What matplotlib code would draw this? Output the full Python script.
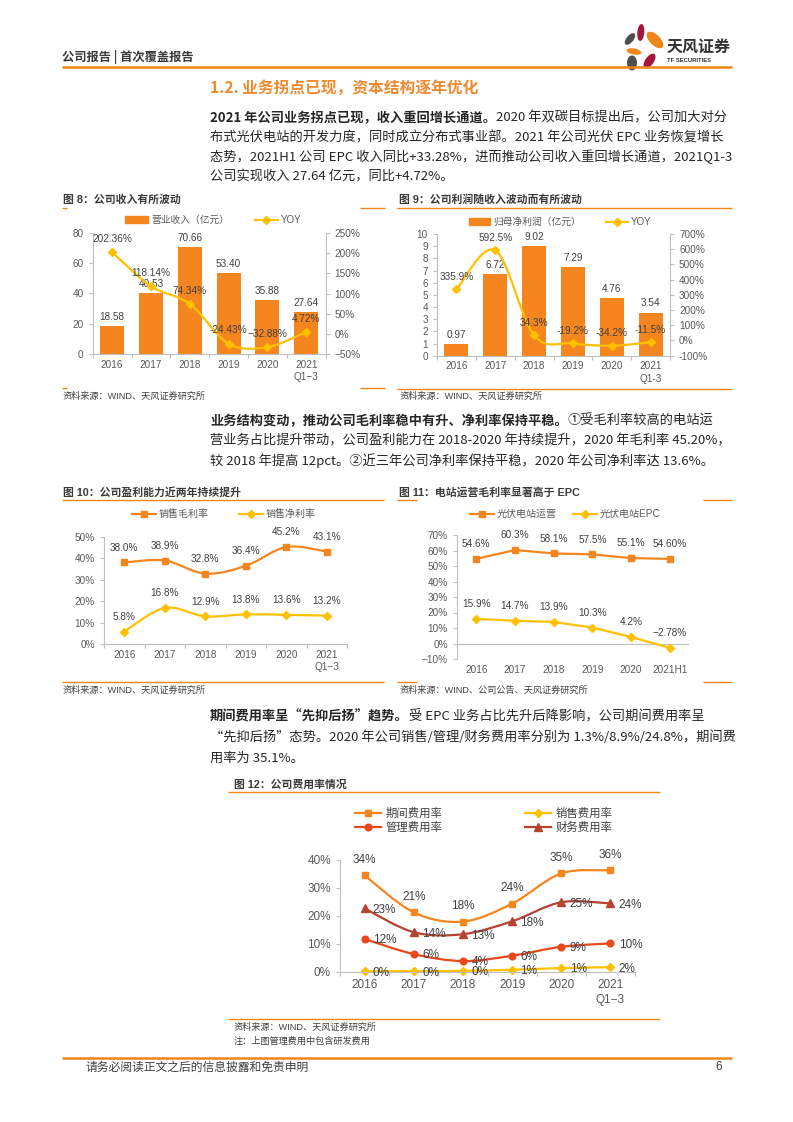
import numpy as np
import matplotlib
matplotlib.use('Agg')
import matplotlib.pyplot as plt
from matplotlib.path import Path
from matplotlib.patches import PathPatch, Patch, Ellipse
from matplotlib.lines import Line2D

plt.rcParams['font.family'] = ['Liberation Sans', 'Noto Sans CJK SC', 'DejaVu Sans']
plt.rcParams['axes.unicode_minus'] = False

# ---- data ----
years = ['2016', '2017', '2018', '2019', '2020', '2021\nQ1−3']
years_9 = ['2016', '2017', '2018', '2019', '2020', '2021\nQ1-3']
years_11 = ['2016', '2017', '2018', '2019', '2020', '2021H1']

revenue = [18.58, 40.53, 70.66, 53.40, 35.88, 27.64]
revenue_yoy = [202.36, 118.14, 74.34, -24.43, -32.88, 4.72]
revenue_yoy_labels = ['202.36%', '118.14%', '74.34%', '-24.43%', '−32.88%', '4.72%']

profit = [0.97, 6.72, 9.02, 7.29, 4.76, 3.54]
profit_yoy = [335.9, 592.5, 34.3, -19.2, -34.2, -11.5]
profit_yoy_labels = ['335.9%', '592.5%', '34.3%', '-19.2%', '-34.2%', '-11.5%']

gross_margin = [38.0, 38.9, 32.8, 36.4, 45.2, 43.1]
net_margin = [5.8, 16.8, 12.9, 13.8, 13.6, 13.2]

op_margin = [54.6, 60.3, 58.1, 57.5, 55.1, 54.60]
op_labels = ['54.6%', '60.3%', '58.1%', '57.5%', '55.1%', '54.60%']
epc_margin = [15.9, 14.7, 13.9, 10.3, 4.2, -2.78]
epc_labels = ['15.9%', '14.7%', '13.9%', '10.3%', '4.2%', '−2.78%']

period_rate = [34.4, 21.2, 17.9, 24.3, 35.1, 36.2]
sales_rate = [0.1, 0.2, 0.3, 0.7, 1.3, 1.6]
admin_rate = [11.7, 6.3, 3.8, 5.7, 8.9, 10.1]
finance_rate = [22.6, 14.1, 13.4, 18.0, 24.8, 24.4]

ORANGE = '#F08519'
BAR = '#F5861F'
YEL = '#FFC000'
RED = '#E8481C'
BRICK = '#B5432F'
TXT = '#404040'
TICK = '#595959'
SPINE = '#BFBFBF'
BODY = ['Noto Sans CJK SC', 'DejaVu Sans']

W, H = 793, 1122
fig = plt.figure(figsize=(W / 100, H / 100), dpi=100)
bg = fig.add_axes([0, 0, 1, 1])
bg.set_xlim(0, W)
bg.set_ylim(H, 0)
bg.axis('off')


def add_box(x0, y0, x1, y1):
    ax = fig.add_axes([x0 / W, 1 - y1 / H, (x1 - x0) / W, (y1 - y0) / H])
    ax.set_facecolor('none')
    return ax


def smooth_path(xs, ys):
    # Excel-style smoothed line: Catmull-Rom through the points as bezier segments
    pts = np.column_stack([xs, ys]).astype(float)
    n = len(pts)
    verts = [pts[0]]
    codes = [Path.MOVETO]
    for i in range(n - 1):
        p0 = pts[i - 1] if i > 0 else pts[i]
        p1, p2 = pts[i], pts[i + 1]
        p3 = pts[i + 2] if i + 2 < n else pts[i + 1]
        verts += [p1 + (p2 - p0) / 6, p2 - (p3 - p1) / 6, p2]
        codes += [Path.CURVE4] * 3
    return Path(verts, codes)


def style(ax, size=7.2, cat_ticks=True):
    for s in ['top', 'right']:
        ax.spines[s].set_visible(False)
    for s in ['left', 'bottom']:
        ax.spines[s].set_color(SPINE)
        ax.spines[s].set_linewidth(0.8)
    ax.tick_params(color=SPINE, labelcolor=TICK, labelsize=size, length=3, width=0.8)
    ax.tick_params(axis='x', length=0, pad=4)
    if cat_ticks:
        ax.set_xticks(np.arange(-0.5, 6, 1), minor=True)
        ax.tick_params(axis='x', which='minor', length=3, width=0.8, color=SPINE)
    for lab in ax.get_xticklabels():
        lab.set_linespacing(1.35)


def hline(x0, x1, y, lw=1.0):
    bg.plot([x0, x1], [y, y], color=ORANGE, lw=lw, solid_capstyle='butt')


def label_points(ax, xs, ys, labels, dy=7, size=7.2, dx=0, ha='center', va='bottom'):
    for xi, yi, lab in zip(xs, ys, labels):
        ax.annotate(lab, (xi, yi), xytext=(dx, dy), textcoords='offset points',
                    ha=ha, va=va, fontsize=size, color=TXT)


def para(y, bold, rest, size=9.5):
    if bold:
        t = bg.text(210, y, bold, fontsize=size, fontweight='bold', color='#262626',
                    va='center', family=BODY)
        bg.annotate(rest, xy=(1, 0.5), xycoords=t, va='center', ha='left',
                    fontsize=size, color='#262626', family=BODY)
    else:
        bg.text(210, y, rest, fontsize=size, color='#262626', va='center', family=BODY)


# ---- page header ----
bg.text(62, 57, '公司报告 | 首次覆盖报告', fontsize=8.8, fontweight='bold', color='#3A3A3A',
        va='center', family=BODY)
hline(62, 732, 67, lw=1.8)
petals = [((640.8, 32.5), 7, 17, 5, '#A3173D'),
          ((655, 40), 10.5, 21, -45, ORANGE),
          ((630, 39), 7, 14, 40, '#4D4D4D'),
          ((634, 51.5), 15, 6, 10, ORANGE),
          ((649.5, 61), 8.5, 17, 35, '#A3173D'),
          ((632, 63), 10, 15, 0, '#4D4D4D')]
for c, w, h, a, col in petals:
    bg.add_patch(Ellipse(c, w, h, angle=a, color=col, lw=0))
bg.text(667, 47, '天风证券', fontsize=11.5, fontweight='bold', color='#333333', va='center',
        family=BODY)
bg.text(667, 60, 'TF SECURITIES', fontsize=4.2, fontweight='bold', color='#333333',
        va='center')

bg.text(210, 88, '1.2. 业务拐点已现，资本结构逐年优化', fontsize=11.3, fontweight='bold',
        color='#F0892D', va='center', family=BODY)

para(118, '2021 年公司业务拐点已现，收入重回增长通道。', '2020 年双碳目标提出后，公司加大对分')
para(137.5, None, '布式光伏电站的开发力度，同时成立分布式事业部。2021 年公司光伏 EPC 业务恢复增长')
para(157, None, '态势，2021H1 公司 EPC 收入同比+33.28%，进而推动公司收入重回增长通道，2021Q1-3')
para(176.5, None, '公司实现收入 27.64 亿元，同比+4.72%。')

para(421, '业务结构变动，推动公司毛利率稳中有升、净利率保持平稳。', '①受毛利率较高的电站运')
para(441, None, '营业务占比提升带动，公司盈利能力在 2018-2020 年持续提升，2020 年毛利率 45.20%，')
para(461, None, '较 2018 年提高 12pct。②近三年公司净利率保持平稳，2020 年公司净利率达 13.6%。')

para(717, '期间费用率呈“先抑后扬”趋势。', '受 EPC 业务占比先升后降影响，公司期间费用率呈')
para(737.5, None, '“先抑后扬”态势。2020 年公司销售/管理/财务费用率分别为 1.3%/8.9%/24.8%，期间费')
para(758, None, '用率为 35.1%。')


def title(x, y, s):
    bg.text(x, y, s, fontsize=7.8, fontweight='bold', color='#3A3A3A', va='center')


def source(x, y, s):
    bg.text(x, y, s, fontsize=6.6, color=TXT, va='center')


# chart frames
title(63, 200, '图 8：公司收入有所波动')
hline(62, 67, 208); hline(360, 385, 208)
hline(62, 67, 388); hline(360, 385, 388)
source(63, 396, '资料来源：WIND、天风证券研究所')

title(399, 200, '图 9：公司利润随收入波动而有所波动')
hline(397, 732, 208)
hline(397, 732, 389)
source(400, 396, '资料来源：WIND、天风证券研究所')

title(63, 492, '图 10：公司盈利能力近两年持续提升')
hline(62, 384, 500)
hline(62, 384, 682)
source(63, 690, '资料来源：WIND、天风证券研究所')

title(399, 492, '图 11：电站运营毛利率显著高于 EPC')
hline(397, 417, 500); hline(703, 732, 500)
hline(397, 417, 682); hline(703, 732, 682)
source(400, 690, '资料来源：WIND、公司公告、天风证券研究所')

title(234, 785, '图 12：公司费用率情况')
hline(228, 660, 792)
hline(228, 660, 1019)
source(234, 1027, '资料来源：WIND、天风证券研究所')
source(234, 1041, '注：上图管理费用中包含研发费用')

# footer
hline(62, 732, 1058, lw=1.8)
bg.text(85, 1067, '请务必阅读正文之后的信息披露和免责申明', fontsize=8.5, color=TXT,
        va='center', family=BODY)
bg.text(722, 1067, '6', fontsize=8.5, color=TXT, va='center', ha='right')

x = np.arange(6)

# ---- 图 8 ----
ax8 = add_box(92.7, 233, 325.7, 354)
ax8.bar(x, revenue, width=0.62, color=BAR, zorder=2)
ax8.set_xlim(-0.5, 5.5)
ax8.set_ylim(0, 80)
ax8.set_yticks(range(0, 81, 20))
ax8.set_xticks(x, years)
style(ax8)
label_points(ax8, x, revenue, [f'{v:.2f}' for v in revenue], dy=3)
ax8r = ax8.twinx()
ax8r.set_facecolor('none')
ax8r.set_ylim(-50, 250)
ax8r.set_yticks(range(-50, 251, 50), ['−50%', '0%', '50%', '100%', '150%', '200%', '250%'])
for s in ['top', 'left', 'bottom']:
    ax8r.spines[s].set_visible(False)
ax8r.spines['right'].set_color(SPINE)
ax8r.tick_params(color=SPINE, labelcolor=TICK, labelsize=7.2, length=3, width=0.8)
ax8r.add_patch(PathPatch(smooth_path(x, revenue_yoy), fill=False, edgecolor=YEL, lw=1.6))
ax8r.plot(x, revenue_yoy, 'D', color=YEL, ms=3.8)
label_points(ax8r, x, revenue_yoy, revenue_yoy_labels, dy=6)
ax8r.legend([Patch(color=BAR), Line2D([], [], color=YEL, marker='D', ms=3.8, lw=1.6)],
            ['营业收入（亿元）', 'YOY'], loc='center left', bbox_to_anchor=(125, 220),
            bbox_transform=bg.transData, ncol=2, frameon=False, fontsize=7,
            handlelength=2.4, handletextpad=0.3, columnspacing=2.6, borderpad=0,
            borderaxespad=0, labelcolor=TICK)

# ---- 图 9 ----
ax9 = add_box(437, 234, 670, 355.7)
ax9.bar(x, profit, width=0.62, color=BAR, zorder=2)
ax9.set_xlim(-0.5, 5.5)
ax9.set_ylim(0, 10)
ax9.set_yticks(range(0, 11))
ax9.set_xticks(x, years_9)
style(ax9)
label_points(ax9, x, profit, [f'{v:.2f}' for v in profit], dy=3)
ax9r = ax9.twinx()
ax9r.set_facecolor('none')
ax9r.set_ylim(-100, 700)
ax9r.set_yticks(range(-100, 701, 100), [f'{v}%' for v in range(-100, 701, 100)])
for s in ['top', 'left', 'bottom']:
    ax9r.spines[s].set_visible(False)
ax9r.spines['right'].set_color(SPINE)
ax9r.tick_params(color=SPINE, labelcolor=TICK, labelsize=7.2, length=3, width=0.8)
ax9r.add_patch(PathPatch(smooth_path(x, profit_yoy), fill=False, edgecolor=YEL, lw=1.6))
ax9r.plot(x, profit_yoy, 'D', color=YEL, ms=3.8)
label_points(ax9r, x, profit_yoy, profit_yoy_labels, dy=5.5)
ax9r.legend([Patch(color=BAR), Line2D([], [], color=YEL, marker='D', ms=3.8, lw=1.6)],
            ['归母净利润（亿元）', 'YOY'], loc='center left', bbox_to_anchor=(469, 222),
            bbox_transform=bg.transData, ncol=2, frameon=False, fontsize=7,
            handlelength=2.2, handletextpad=0.3, columnspacing=2.6, borderpad=0,
            borderaxespad=0, labelcolor=TICK)

# ---- 图 10 ----
ax10 = add_box(104, 536.7, 347, 644)
ax10.add_patch(PathPatch(smooth_path(x, gross_margin), fill=False, edgecolor=BAR, lw=1.6))
ax10.add_patch(PathPatch(smooth_path(x, net_margin), fill=False, edgecolor=YEL, lw=1.6))
ax10.plot(x, gross_margin, 's', color=BAR, ms=4.2)
ax10.plot(x, net_margin, 'D', color=YEL, ms=3.8)
ax10.set_xlim(-0.5, 5.5)
ax10.set_ylim(0, 50)
ax10.set_yticks(range(0, 51, 10), [f'{v}%' for v in range(0, 51, 10)])
ax10.set_xticks(x, years)
style(ax10)
label_points(ax10, x, gross_margin, [f'{v:.1f}%' for v in gross_margin], dy=7)
label_points(ax10, x, net_margin, [f'{v:.1f}%' for v in net_margin], dy=7)
ax10.legend([Line2D([], [], color=BAR, marker='s', ms=4.2, lw=1.6),
             Line2D([], [], color=YEL, marker='D', ms=3.8, lw=1.6)],
            ['销售毛利率', '销售净利率'], loc='center left', bbox_to_anchor=(132, 514),
            bbox_transform=bg.transData, ncol=2, frameon=False, fontsize=7.2,
            handlelength=2.4, handletextpad=0.3, columnspacing=3.0, borderpad=0,
            borderaxespad=0, labelcolor=TICK)

# ---- 图 11 ----
ax11 = add_box(457, 535, 689, 659)
ax11.plot(x, op_margin, '-s', color=BAR, ms=4.2, lw=1.6)
ax11.plot(x, epc_margin, '-D', color=YEL, ms=3.8, lw=1.6)
ax11.axhline(0, color=SPINE, lw=0.8, zorder=0)
ax11.set_xlim(-0.5, 5.5)
ax11.set_ylim(-10, 70)
ax11.set_yticks(range(-10, 71, 10),
                ['−10%'] + [f'{v}%' for v in range(0, 71, 10)])
ax11.set_xticks(x, years_11)
style(ax11, cat_ticks=False)
ax11.spines['bottom'].set_visible(False)
label_points(ax11, x, op_margin, op_labels, dy=7)
label_points(ax11, x, epc_margin, epc_labels, dy=7)
ax11.legend([Line2D([], [], color=BAR, marker='s', ms=4.2, lw=1.6),
             Line2D([], [], color=YEL, marker='D', ms=3.8, lw=1.6)],
            ['光伏电站运营', '光伏电站EPC'], loc='center left', bbox_to_anchor=(470, 514),
            bbox_transform=bg.transData, ncol=2, frameon=False, fontsize=7.2,
            handlelength=2.4, handletextpad=0.3, columnspacing=1.6, borderpad=0,
            borderaxespad=0, labelcolor=TICK)

# ---- 图 12 ----
ax12 = add_box(340, 859.7, 635, 971.7)
series12 = [(period_rate, BAR, 's', 4.8), (sales_rate, YEL, 'D', 4.4),
            (admin_rate, RED, 'o', 4.8), (finance_rate, BRICK, '^', 5.2)]
for vals, col, mk, ms in series12:
    ax12.add_patch(PathPatch(smooth_path(x, vals), fill=False, edgecolor=col, lw=1.6))
    ax12.plot(x, vals, mk, color=col, ms=ms, clip_on=False)
ax12.set_xlim(-0.5, 5.5)
ax12.set_ylim(0, 40)
ax12.set_yticks(range(0, 41, 10), [f'{v}%' for v in range(0, 41, 10)])
ax12.set_xticks(x, years)
style(ax12, size=8.5)
ax12.tick_params(axis='x', which='major', pad=5)
label_points(ax12, x, period_rate, [f'{v:.0f}%' for v in period_rate], dy=7, size=8.5)
for vals in (sales_rate, admin_rate, finance_rate):
    label_points(ax12, x, vals, [f'{v:.0f}%' for v in vals], dx=6, dy=-1, size=8.5,
                 ha='left', va='center')
h12 = [Line2D([], [], color=c, marker=m, ms=s, lw=1.6) for _, c, m, s in series12]
ax12.legend([h12[0], h12[2], h12[1], h12[3]], ['期间费用率', '管理费用率', '销售费用率', '财务费用率'],
            loc='center left', bbox_to_anchor=(355, 820), bbox_transform=bg.transData,
            ncol=2, frameon=False, fontsize=8.2, handlelength=2.3, handletextpad=0.4,
            columnspacing=7.2, labelspacing=0.25, borderpad=0, borderaxespad=0,
            labelcolor=TXT)

fig.savefig('out.png', dpi=100)
